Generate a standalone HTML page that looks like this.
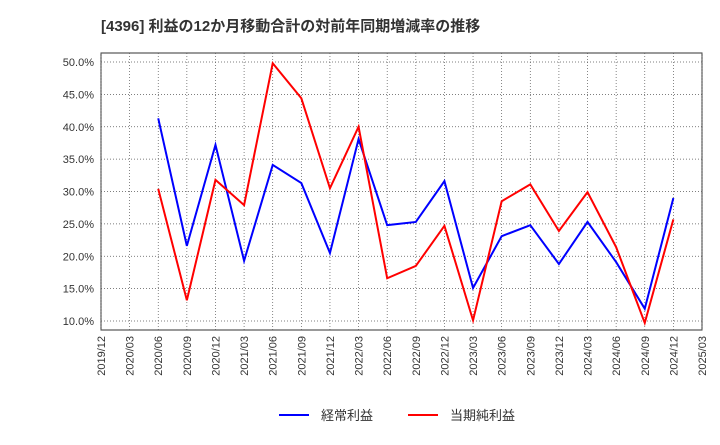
<!DOCTYPE html>
<html><head><meta charset="utf-8"><style>
body{margin:0;background:#fff;font-family:"Liberation Sans","Noto Sans CJK JP",sans-serif;}
svg text{font-family:"Liberation Sans","Noto Sans CJK JP",sans-serif;}
</style></head><body>
<svg id="chart" width="720" height="440" xmlns="http://www.w3.org/2000/svg">
<text x="101" y="31" font-size="15" font-weight="bold" fill="#333">[4396]  利益の12か月移動合計の対前年同期増減率の推移</text>
<rect x="101" y="53" width="601" height="277" fill="none" stroke="#333" stroke-width="1"/>
<g id="grid"></g><g id="axes"></g><g id="series"></g>
<g>
<line x1="279" y1="415" x2="309" y2="415" stroke="#0000ff" stroke-width="2"/>
<text x="321" y="420" font-size="13" fill="#333">経常利益</text>
<line x1="408" y1="415" x2="438" y2="415" stroke="#ff0000" stroke-width="2"/>
<text x="450" y="420" font-size="13" fill="#333">当期純利益</text>
</g>
</svg>
<script>
const categories=["2019/12","2020/03","2020/06","2020/09","2020/12","2021/03","2021/06","2021/09","2021/12","2022/03","2022/06","2022/09","2022/12","2023/03","2023/06","2023/09","2023/12","2024/03","2024/06","2024/09","2024/12","2025/03"];
const ordinaryProfit=[null,null,41.3,21.6,37.2,19.3,34.1,31.3,20.5,38.1,24.8,25.3,31.6,15.1,23.1,24.8,18.8,25.3,19.1,11.9,29.0,null];
const netProfit=[null,null,30.4,13.2,31.8,27.9,49.8,44.4,30.5,40.0,16.6,18.5,24.7,10.1,28.5,31.1,23.9,29.9,21.4,9.7,25.7,null];
const yTicks=[10,15,20,25,30,35,40,45,50];
const NS="http://www.w3.org/2000/svg";
const X0=101,X1=702,Y0=53,Y1=330;
function xs(i){return X0+i*(X1-X0)/(categories.length-1);}
function ys(v){return 321-(v-10)*(259/40);}
function mk(tag,attrs,parent){const e=document.createElementNS(NS,tag);for(const k in attrs)e.setAttribute(k,attrs[k]);parent.appendChild(e);return e;}
const grid=document.getElementById('grid'),axes=document.getElementById('axes'),series=document.getElementById('series');
categories.forEach((c,i)=>{
  const x=xs(i);
  const l=mk('line',{x1:x,y1:Y0,x2:x,y2:Y1,stroke:'#555','stroke-width':0.7,'stroke-dasharray':'1,2'},grid);
  
  
  const t=mk('text',{x:0,y:0,'font-size':11,fill:'#333','text-anchor':'end',transform:`translate(${x+4},${Y1+6}) rotate(-90)`},axes);
  
  
  t.textContent=c;
});
yTicks.forEach(v=>{
  const y=ys(v);
  const l=mk('line',{x1:X0,y1:y,x2:X1,y2:y,stroke:'#555','stroke-width':0.7,'stroke-dasharray':'1,2'},grid);
  
  
  const t=mk('text',{x:X0-7,y:y+4,'font-size':11,fill:'#333','text-anchor':'end'},axes);
  
  
  t.textContent=v.toFixed(1)+'%';
});
function draw(data,color,name){
  let d='';data.forEach((v,i)=>{if(v==null)return;d+=(d?'L':'M')+xs(i)+','+ys(v);});
  const p=mk('path',{d:d,fill:'none',stroke:color,'stroke-width':2},series);
  
  
}
draw(ordinaryProfit,'#0000ff','ordinary-profit-line');
draw(netProfit,'#ff0000','net-profit-line');
</script>
</body></html>
